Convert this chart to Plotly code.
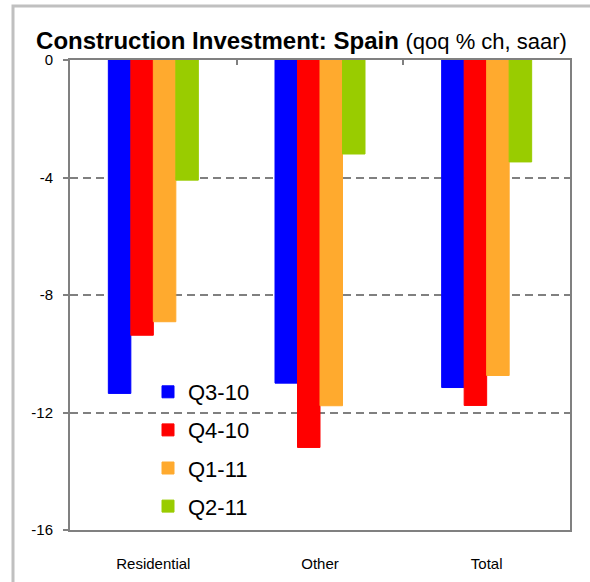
import plotly.graph_objects as go

categories = ["Residential", "Other", "Total"]
series_names = ["Q3-10", "Q4-10", "Q1-11", "Q2-11"]
q3_10 = [-11.35, -11.0, -11.15]
q4_10 = [-9.37, -13.19, -11.76]
q1_11 = [-8.91, -11.77, -10.74]
q2_11 = [-4.09, -3.2, -3.47]
colors = ["#0000FF", "#FF0000", "#FFAA2E", "#99CC00"]
y_ticks = [0, -4, -8, -12, -16]

values = [q3_10, q4_10, q1_11, q2_11]
FONT = "Liberation Sans, Arial, sans-serif"

fig = go.Figure()
for name, vals, col in zip(series_names, values, colors):
    fig.add_trace(go.Bar(
        x=categories, y=vals, name=name, legendgroup=name,
        marker=dict(color=col, line=dict(color=col, width=1)),
    ))

# invisible helper trace for the top category axis (ticks at boundaries)
fig.add_trace(go.Scatter(x=categories, y=[0, 0, 0], xaxis="x2", yaxis="y",
                         mode="markers", marker=dict(opacity=0),
                         showlegend=False, hoverinfo="skip"))

W, H = 590, 582
L, R, T, B = 70, 20, 60, 52
pw, ph = W - L - R, H - T - B

fig.update_layout(
    width=W, height=H,
    margin=dict(l=L, r=R, t=T, b=B, autoexpand=False),
    paper_bgcolor="white", plot_bgcolor="white",
    barmode="group", bargap=0.46, bargroupgap=0,
    font=dict(family=FONT, color="black"),
    title=dict(
        text="<b>Construction Investment: Spain</b> <span style='font-size:22px'>(qoq % ch, saar)</span>",
        font=dict(family=FONT, size=24, color="black"),
        xref="container", x=301.5 / W, xanchor="center",
        yref="container", y=1 - 41 / H, yanchor="middle",
    ),
    xaxis=dict(
        type="category", categoryorder="array", categoryarray=categories,
        showline=True, linecolor="#808080", linewidth=2,
        ticks="", showgrid=False, automargin=False,
        tickfont=dict(family=FONT, size=15, color="black"),
        ticklabelstandoff=19,
    ),
    xaxis2=dict(
        type="category", categoryorder="array", categoryarray=categories,
        overlaying="x", side="top", matches="x", automargin=False,
        showline=True, linecolor="#808080", linewidth=2,
        ticks="inside", tickson="boundaries", ticklen=5, tickcolor="#808080", tickwidth=2,
        showticklabels=False, showgrid=False,
    ),
    yaxis=dict(
        range=[-16, 0], tickvals=y_ticks, ticktext=[str(v) for v in y_ticks],
        showline=True, linecolor="#808080", linewidth=2, mirror=True,
        ticks="outside", ticklen=5, tickcolor="#808080", tickwidth=2,
        showgrid=True, gridcolor="#808080", gridwidth=1.5, griddash="8px,5px",
        zeroline=False, ticklabelstandoff=7, automargin=False,
        tickfont=dict(family=FONT, size=15, color="black"),
    ),
    legend=dict(
        x=(148 - L) / pw, xanchor="left",
        y=(H - B - 371) / ph, yanchor="top",
        bgcolor="rgba(0,0,0,0)",
        font=dict(family=FONT, size=22, color="black"),
        traceorder="grouped", tracegroupgap=6.5,
    ),
    shapes=[dict(
        type="rect", xref="paper", yref="paper",
        x0=(13 - L) / pw, x1=(640 - L) / pw,
        y0=(H - B - 640) / ph, y1=(H - B - 6) / ph,
        line=dict(color="#C0C0C0", width=3), fillcolor="rgba(0,0,0,0)",
        layer="below",
    )],
)

fig.write_html("out.html", config={"displayModeBar": False},
               post_script="document.body.style.margin='0px';")
